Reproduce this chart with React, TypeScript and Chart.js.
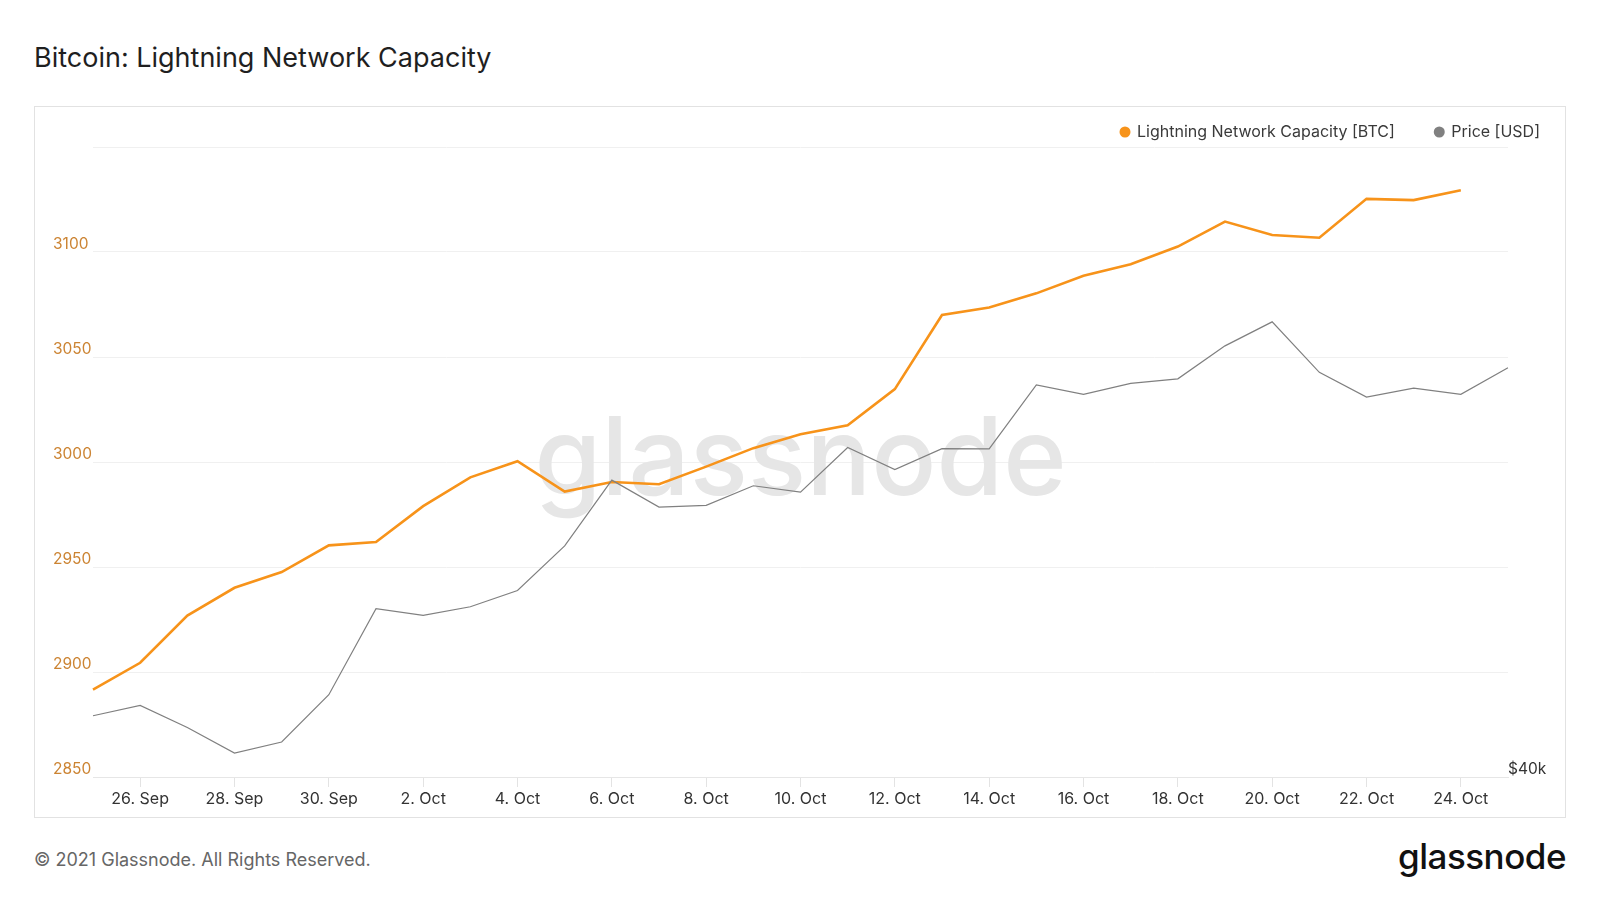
import React, { useEffect, useRef } from "react";
import { Chart, registerables } from "chart.js";

Chart.register(...registerables);

const FONT = "Inter, 'Noto Sans', sans-serif";

const dates = [
  "25. Sep", "26. Sep", "27. Sep", "28. Sep", "29. Sep", "30. Sep",
  "1. Oct", "2. Oct", "3. Oct", "4. Oct", "5. Oct", "6. Oct", "7. Oct",
  "8. Oct", "9. Oct", "10. Oct", "11. Oct", "12. Oct", "13. Oct", "14. Oct",
  "15. Oct", "16. Oct", "17. Oct", "18. Oct", "19. Oct", "20. Oct", "21. Oct",
  "22. Oct", "23. Oct", "24. Oct", "25. Oct",
];

const capacityBTC: (number | null)[] = [
  2891.6, 2904.4, 2926.9, 2940.1, 2947.6, 2960.3,
  2961.9, 2979.0, 2992.7, 3000.4, 2985.9, 2990.5, 2989.4,
  2997.8, 3006.6, 3013.2, 3017.5, 3034.7, 3070.0, 3073.6,
  3080.3, 3088.7, 3094.2, 3102.6, 3114.5, 3108.1, 3106.8,
  3125.3, 3124.7, 3129.4, null,
];

const priceUSD = [
  42790, 43280, 42240, 41070, 41570, 43790,
  48140, 47780, 48240, 49110, 51580, 55450, 53830,
  53930, 55110, 54720, 57480, 56100, 57410, 57390,
  61580, 60940, 61680, 61990, 64280, 66000, 62430,
  60760, 61360, 60940, 62750,
];

const capacityTicks = [2850, 2900, 2950, 3000, 3050, 3100, 3150];
const capacityLabelled = [2850, 2900, 2950, 3000, 3050, 3100];
const priceTicks = [40000];
const capacityRange = [2850, 3150];
const priceRange = [40000, 80000];

const ORANGE = "#f7931a";
const GRAY = "#808080";

const watermarkPlugin = {
  id: "watermark",
  beforeDatasetsDraw(chart: any) {
    const { ctx, chartArea } = chart;
    ctx.save();
    ctx.font = `500 108px ${FONT}`;
    ctx.fillStyle = "#e6e6e6";
    ctx.textAlign = "center";
    ctx.textBaseline = "alphabetic";
    const cx = (chartArea.left + chartArea.right) / 2;
    const cy = (chartArea.top + chartArea.bottom) / 2;
    ctx.fillText("glassnode", cx, cy + 33);
    ctx.restore();
  },
};

const legendPlugin = {
  id: "customLegend",
  afterDraw(chart: any) {
    const { ctx } = chart;
    const ds = chart.data.datasets;
    ctx.save();
    ctx.font = `16px ${FONT}`;
    ctx.textBaseline = "middle";
    ctx.textAlign = "left";
    let x = 1505;
    const y = 25;
    for (let i = ds.length - 1; i >= 0; i--) {
      const label = ds[i].label as string;
      const w = ctx.measureText(label).width;
      const tx = x - w;
      ctx.fillStyle = "#3a3a3a";
      ctx.fillText(label, tx, y);
      ctx.beginPath();
      ctx.arc(tx - 12, y, 5.5, 0, Math.PI * 2);
      ctx.fillStyle = ds[i].legendColor;
      ctx.fill();
      x = tx - 12 - 5.5 - 39;
    }
    ctx.restore();
  },
};

function LightningChart() {
  const ref = useRef<HTMLCanvasElement | null>(null);
  useEffect(() => {
    if (!ref.current) return;
    const chart = new Chart(ref.current, {
      type: "line",
      data: {
        labels: dates,
        datasets: [
          {
            label: "Lightning Network Capacity [BTC]",
            data: capacityBTC,
            borderColor: ORANGE,
            backgroundColor: ORANGE,
            borderWidth: 2.6,
            pointRadius: 0,
            tension: 0,
            yAxisID: "y",
            order: 1,
            legendColor: ORANGE,
          } as any,
          {
            label: "Price [USD]",
            data: priceUSD,
            borderColor: GRAY,
            backgroundColor: GRAY,
            borderWidth: 1.2,
            pointRadius: 0,
            tension: 0,
            yAxisID: "price",
            order: 0,
            legendColor: GRAY,
          } as any,
        ],
      },
      options: {
        responsive: false,
        animation: false,
        layout: { padding: { top: 40, left: 18, right: 0, bottom: 0 } },
        plugins: {
          legend: { display: false },
          tooltip: { enabled: false },
          title: { display: false },
        },
        scales: {
          x: {
            type: "category",
            offset: false,
            grid: {
              display: true,
              drawOnChartArea: false,
              drawTicks: true,
              tickLength: 10,
              color: (c: any) => (c.index % 2 === 1 ? "#e3e3e3" : "rgba(0,0,0,0)"),
            },
            border: { display: true, color: "#e6e6e6" },
            ticks: {
              autoSkip: false,
              maxRotation: 0,
              minRotation: 0,
              padding: 3,
              color: "#333333",
              font: { family: FONT, size: 16 },
              callback: (_v: any, i: number) => (i % 2 === 1 ? dates[i] : ""),
            },
            afterFit: (s: any) => {
              s.height = 40;
            },
          },
          y: {
            type: "linear",
            position: "left",
            min: capacityRange[0],
            max: capacityRange[1],
            grid: { color: "#f0f0f0", drawTicks: false, lineWidth: 1 },
            border: { display: false },
            afterBuildTicks: (s: any) => {
              s.ticks = capacityTicks.map((v) => ({ value: v }));
            },
            ticks: {
              crossAlign: "far",
              padding: 0,
              labelOffset: -8,
              color: "#cc8433",
              font: { family: FONT, size: 15.5 },
              callback: (v: any) => (capacityLabelled.includes(Number(v)) ? String(v) : ""),
            },
            afterFit: (s: any) => {
              s.width = 40;
            },
          },
          price: {
            type: "logarithmic",
            position: "right",
            min: priceRange[0],
            max: priceRange[1],
            grid: { display: false, drawTicks: false },
            border: { display: false },
            afterBuildTicks: (s: any) => {
              s.ticks = priceTicks.map((v) => ({ value: v }));
            },
            ticks: {
              padding: 0,
              labelOffset: -8,
              color: "#333333",
              font: { family: FONT, size: 15.5 },
              callback: (v: any) => "$" + Math.round(Number(v) / 1000) + "k",
            },
            afterFit: (s: any) => {
              s.width = 57;
            },
          },
        },
      } as any,
      plugins: [watermarkPlugin, legendPlugin],
    });
    return () => chart.destroy();
  }, []);
  return (
    <canvas
      ref={ref}
      width={1530}
      height={710}
      style={{ position: "absolute", left: 35, top: 107, width: 1530, height: 710 }}
    />
  );
}

export default function App() {
  return (
    <div
      style={{
        position: "fixed",
        left: 0,
        top: 0,
        width: 1600,
        height: 900,
        background: "#ffffff",
        fontFamily: FONT,
        overflow: "hidden",
      }}
    >
      <div
        style={{
          position: "absolute",
          left: 34,
          top: 44,
          fontSize: 27,
          lineHeight: "28px",
          color: "#1f1f1f",
          whiteSpace: "nowrap",
        }}
      >
        Bitcoin: Lightning Network Capacity
      </div>
      <div
        style={{
          position: "absolute",
          left: 34,
          top: 106,
          width: 1532,
          height: 712,
          border: "1px solid #e2e2e2",
          boxSizing: "border-box",
        }}
      />
      <LightningChart />
      <div
        style={{
          position: "absolute",
          left: 34,
          top: 849,
          fontSize: 18,
          lineHeight: "22px",
          color: "#666666",
          whiteSpace: "nowrap",
        }}
      >
        © 2021 Glassnode. All Rights Reserved.
      </div>
      <div
        style={{
          position: "absolute",
          right: 34,
          top: 836,
          fontSize: 35,
          lineHeight: "40px",
          fontWeight: 500,
          letterSpacing: "-0.5px",
          color: "#111111",
          whiteSpace: "nowrap",
        }}
      >
        glassnode
      </div>
    </div>
  );
}
